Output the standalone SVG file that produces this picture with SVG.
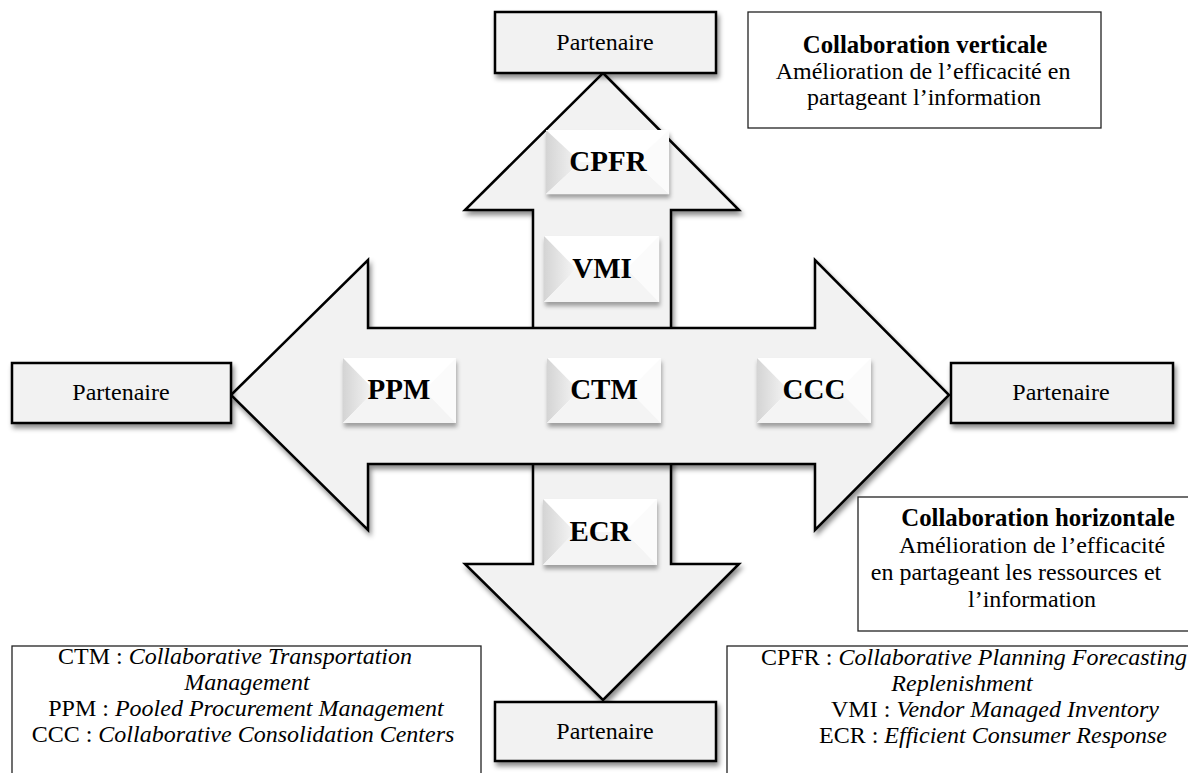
<svg xmlns="http://www.w3.org/2000/svg" width="1188" height="773" viewBox="0 0 1188 773">
<style>
.txt{font-family:"Liberation Serif","Times New Roman",serif;font-size:24px;fill:#000}
.b{font-weight:bold;font-size:24.8px}
.i{font-style:italic}
.acr{font-family:"Liberation Serif","Times New Roman",serif;font-size:29px;font-weight:bold;fill:#000}
.arrow{fill:#f2f2f2;stroke:#000;stroke-width:2.5;stroke-linejoin:miter}
.partner{fill:#f2f2f2;stroke:#000;stroke-width:2.5}
.legend{fill:#fff;stroke:#222;stroke-width:1.3}
</style>
<defs>
<filter id="sh" x="-20%" y="-20%" width="140%" height="150%">
<feDropShadow dx="2" dy="4" stdDeviation="2.5" flood-color="#000" flood-opacity="0.45"/>
</filter>
<filter id="shs" x="-20%" y="-20%" width="140%" height="150%">
<feDropShadow dx="1" dy="4" stdDeviation="2" flood-color="#000" flood-opacity="0.35"/>
</filter>
<linearGradient id="lf" x1="0" y1="0" x2="1" y2="0">
<stop offset="0" stop-color="#d4d4d4"/>
<stop offset="1" stop-color="#f6f6f6"/>
</linearGradient>
<g id="bev">
<rect x="0" y="0" width="114" height="65" fill="#fff"/>
<polygon points="0,0 32,32.5 0,65" fill="url(#lf)"/>
<polygon points="0,65 32,32.5 82,32.5 114,65" fill="#f4f4f4"/>
<polygon points="114,0 82,32.5 114,65" fill="#fbfbfb"/>
</g>
</defs>

<g id="connectors">
<polygon class="arrow" filter="url(#sh)" points="603,73 739,210 671,210 671,564 739,564 603,700 465,564 533,564 533,210 465,210"/>
<polygon class="arrow" filter="url(#sh)" points="231,395 368,260 368,328 815,328 815,260 949,395 815,530 815,464 368,464 368,530"/>
</g>

<g id="partner-top">
<rect class="partner" filter="url(#sh)" x="495" y="12" width="221" height="61"/>
<text class="txt" x="605" y="50" text-anchor="middle">Partenaire</text>
</g>
<g id="partner-left">
<rect class="partner" filter="url(#sh)" x="12" y="363" width="219" height="60"/>
<text class="txt" x="121" y="400" text-anchor="middle">Partenaire</text>
</g>
<g id="partner-right">
<rect class="partner" filter="url(#sh)" x="951" y="363" width="222" height="60"/>
<text class="txt" x="1061" y="400" text-anchor="middle">Partenaire</text>
</g>
<g id="partner-bottom">
<rect class="partner" filter="url(#sh)" x="495" y="702" width="221" height="59"/>
<text class="txt" x="605" y="739" text-anchor="middle">Partenaire</text>
</g>

<g id="cpfr">
<use href="#bev" transform="translate(546,130) scale(1.079,0.985)" filter="url(#shs)"/>
<text class="acr" x="608" y="171" text-anchor="middle">CPFR</text>
</g>
<g id="vmi">
<use href="#bev" transform="translate(544,236) scale(1.009,1.015)" filter="url(#shs)"/>
<text class="acr" x="602" y="278" text-anchor="middle">VMI</text>
</g>
<g id="ppm">
<use href="#bev" transform="translate(343,358) scale(0.991,1)" filter="url(#shs)"/>
<text class="acr" x="399" y="399" text-anchor="middle">PPM</text>
</g>
<g id="ctm">
<use href="#bev" transform="translate(547,358)" filter="url(#shs)"/>
<text class="acr" x="604" y="399" text-anchor="middle">CTM</text>
</g>
<g id="ccc">
<use href="#bev" transform="translate(757,358)" filter="url(#shs)"/>
<text class="acr" x="814" y="399" text-anchor="middle">CCC</text>
</g>
<g id="ecr">
<use href="#bev" transform="translate(543,499) scale(1,1.015)" filter="url(#shs)"/>
<text class="acr" x="600" y="541" text-anchor="middle">ECR</text>
</g>

<g id="legend-vertical">
<rect class="legend" x="748" y="12" width="353" height="116"/>
<text class="txt b" x="925" y="53" text-anchor="middle">Collaboration verticale</text>
<text class="txt" x="923" y="79" text-anchor="middle">Amélioration de l’efficacité en</text>
<text class="txt" x="924" y="105" text-anchor="middle">partageant l’information</text>
</g>

<g id="legend-horizontal">
<rect class="legend" x="858" y="497" width="345" height="134"/>
<text class="txt b" x="1038" y="526" text-anchor="middle">Collaboration horizontale</text>
<text class="txt" x="1032" y="553" text-anchor="middle">Amélioration de l’efficacité</text>
<text class="txt" x="1016" y="580" text-anchor="middle">en partageant les ressources et</text>
<text class="txt" x="1032" y="607" text-anchor="middle">l’information</text>
</g>

<g id="legend-left">
<rect class="legend" x="12" y="646" width="469" height="140"/>
<text class="txt" x="235" y="664" text-anchor="middle">CTM : <tspan class="i">Collaborative Transportation</tspan></text>
<text class="txt i" x="247" y="690" text-anchor="middle">Management</text>
<text class="txt" x="246" y="716" text-anchor="middle">PPM : <tspan class="i">Pooled Procurement Management</tspan></text>
<text class="txt" x="243" y="742" text-anchor="middle">CCC : <tspan class="i">Collaborative Consolidation Centers</tspan></text>
</g>

<g id="legend-right">
<rect class="legend" x="727" y="646" width="480" height="140"/>
<text class="txt" x="974" y="665" text-anchor="middle">CPFR : <tspan class="i">Collaborative Planning Forecasting</tspan></text>
<text class="txt i" x="962" y="691" text-anchor="middle">Replenishment</text>
<text class="txt" x="995" y="717" text-anchor="middle">VMI : <tspan class="i">Vendor Managed Inventory</tspan></text>
<text class="txt" x="993" y="743" text-anchor="middle">ECR : <tspan class="i">Efficient Consumer Response</tspan></text>
</g>
</svg>
